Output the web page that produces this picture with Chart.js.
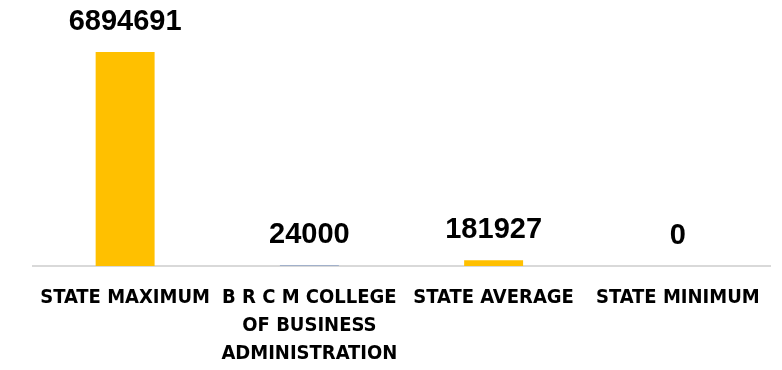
<!DOCTYPE html>
<html>
<head>
<meta charset="utf-8">
<script src="https://cdn.jsdelivr.net/npm/chart.js@4.4.1/dist/chart.umd.min.js"></script>
<style>
  html, body { margin: 0; padding: 0; background: #fff; }
  #wrap { width: 782px; height: 370px; position: relative; }
</style>
</head>
<body>
<div id="wrap"><canvas id="chart"></canvas></div>
<script>
// chart data
const categories = [
    'STATE MAXIMUM',
    ['B R C M COLLEGE', 'OF BUSINESS', 'ADMINISTRATION'],
    'STATE AVERAGE',
    'STATE MINIMUM'
];
const values = [6894691, 24000, 181927, 0];
const barColors = ['#FFC000', '#8EA2C4', '#FFC000', '#FFC000'];

// draws the value above each bar
const valueLabels = {
    id: 'valueLabels',
    afterDatasetsDraw(chart) {
        const ctx = chart.ctx;
        const meta = chart.getDatasetMeta(0);
        ctx.save();
        ctx.font = 'bold 29px "Liberation Sans", Arial, sans-serif';
        ctx.fillStyle = '#000';
        ctx.textAlign = 'center';
        ctx.textBaseline = 'bottom';
        meta.data.forEach((bar, i) => {
            ctx.fillText(String(values[i]), bar.x, bar.y - 16);
        });
        ctx.restore();
    }
};

const ctx = document.getElementById('chart').getContext('2d');
new Chart(ctx, {
    type: 'bar',
    data: {
        labels: categories,
        datasets: [{
            data: values,
            backgroundColor: barColors,
            borderWidth: 0,
            categoryPercentage: 1,
            barPercentage: 0.32
        }]
    },
    options: {
        responsive: true,
        maintainAspectRatio: false,
        animation: false,
        layout: { padding: { top: 52, left: 33, right: 12, bottom: -16 } },
        plugins: {
            legend: { display: false },
            tooltip: { enabled: false }
        },
        scales: {
            x: {
                grid: { display: false, drawTicks: false },
                border: { color: '#D9D9D9', width: 2 },
                ticks: {
                    color: '#000',
                    padding: 18,
                    maxRotation: 0,
                    autoSkip: false,
                    font: { family: '"Liberation Sans Narrow", "DejaVu Sans Condensed", sans-serif', size: 20, weight: 'bold', lineHeight: 1.4 }
                }
            },
            y: {
                display: false,
                min: 0,
                max: 6894691
            }
        }
    },
    plugins: [valueLabels]
});
</script>
</body>
</html>
